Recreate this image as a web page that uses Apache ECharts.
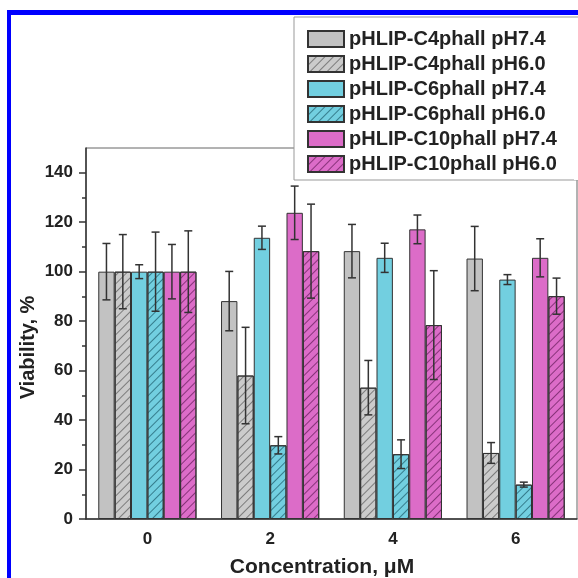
<!DOCTYPE html>
<html><head><meta charset="utf-8">
<script src="https://cdn.jsdelivr.net/npm/echarts@6/dist/echarts.min.js"></script>
<style>html,body{margin:0;padding:0;background:#fff}#c{width:578px;height:578px}</style>
</head><body><div id="c"></div>
<script>
// ---- data ----
const categories = ['0', '2', '4', '6'];
const seriesNames = [
  'pHLIP-C4phall pH7.4', 'pHLIP-C4phall pH6.0',
  'pHLIP-C6phall pH7.4', 'pHLIP-C6phall pH6.0',
  'pHLIP-C10phall pH7.4', 'pHLIP-C10phall pH6.0'
];
const c4ph74 = [100, 88.1, 108.3, 105.3];
const c4ph60 = [100, 58.0, 53.1, 26.7];
const c6ph74 = [100, 113.7, 105.6, 96.8];
const c6ph60 = [100, 29.8, 26.2, 13.9];
const c10ph74 = [100, 123.8, 117.1, 105.6];
const c10ph60 = [100, 108.3, 78.4, 90.1];
const c4ph74Err = [11.4, 12.0, 10.8, 13.0];
const c4ph60Err = [15.0, 19.5, 11.0, 4.2];
const c6ph74Err = [2.8, 4.7, 5.9, 2.0];
const c6ph60Err = [16.0, 3.5, 5.8, 1.0];
const c10ph74Err = [11.0, 10.8, 5.8, 7.7];
const c10ph60Err = [16.5, 19.0, 22.0, 7.3];
const yTicks = [0, 20, 40, 60, 80, 100, 120, 140];
const yMinorTicks = [10, 30, 50, 70, 90, 110, 130];

// ---- chart ----
const values = [c4ph74, c4ph60, c6ph74, c6ph60, c10ph74, c10ph60];
const errors = [c4ph74Err, c4ph60Err, c6ph74Err, c6ph60Err, c10ph74Err, c10ph60Err];
const FONT = '"Liberation Sans", Arial, sans-serif';
const fills = ['#c2c2c2', '#cbcbcb', '#72cfe0', '#72cfe0', '#dc6cc8', '#dc6cc8'];
const hatchColors = [null, 'rgba(70,70,70,0.6)', null, 'rgba(20,80,95,0.65)', null, 'rgba(90,20,80,0.65)'];
const CAT_GAP = 0.2;
const N = seriesNames.length;

const barSeries = seriesNames.map((name, i) => {
  const s = {
    name, type: 'bar', data: values[i], barGap: '0%', barCategoryGap: '20%',
    itemStyle: { color: fills[i], borderColor: '#333', borderWidth: 1 },
    emphasis: { disabled: true }, z: 2, yAxisIndex: 0
  };
  if (hatchColors[i]) {
    s.itemStyle.decal = {
      symbol: 'rect', symbolSize: 1, dashArrayX: [1, 0], dashArrayY: [1, 4.6],
      rotation: -Math.PI / 4, color: hatchColors[i]
    };
  }
  return s;
});

const errSeries = seriesNames.map((name, i) => ({
  type: 'custom', silent: true, z: 5, yAxisIndex: 0,
  data: values[i].map((v, k) => [k, v, errors[i][k]]),
  encode: { x: 0, y: 1 },
  renderItem: (params, api) => {
    const cat = api.value(0), v = api.value(1), e = api.value(2);
    const band = api.size([1, 0])[0];
    const bw = band * (1 - CAT_GAP) / N;
    const x = api.coord([cat, v])[0] + (i - (N - 1) / 2) * bw;
    const yT = api.coord([cat, v + e])[1];
    const yB = api.coord([cat, v - e])[1];
    const cap = 4;
    const st = { stroke: '#333', lineWidth: 1.5 };
    return { type: 'group', children: [
      { type: 'line', shape: { x1: x, y1: yT, x2: x, y2: yB }, style: st },
      { type: 'line', shape: { x1: x - cap, y1: yT, x2: x + cap, y2: yT }, style: st },
      { type: 'line', shape: { x1: x - cap, y1: yB, x2: x + cap, y2: yB }, style: st }
    ] };
  }
}));

const chart = echarts.init(document.getElementById('c'), null, { renderer: 'canvas' });
chart.setOption({
  animation: false,
  backgroundColor: '#fff',
  grid: { left: 86, right: 1, top: 148, bottom: 59, show: true, borderColor: '#666', borderWidth: 1,
          containLabel: false, outerBoundsMode: 'none' },
  legend: {
    data: seriesNames, orient: 'vertical', left: 294, top: 17,
    itemWidth: 36, itemHeight: 16, itemGap: 5, icon: 'rect',
    padding: [12, 40, 6, 13], backgroundColor: '#fff', borderColor: '#999', borderWidth: 1,
    textStyle: { fontFamily: FONT, fontWeight: 'bold', fontSize: 20, color: '#222' },
    selectedMode: false, z: 10
  },
  xAxis: {
    type: 'category', data: categories,
    name: 'Concentration, μM', nameLocation: 'middle', nameGap: 38, nameMoveOverlap: false,
    nameTextStyle: { fontFamily: FONT, fontWeight: 'bold', fontSize: 21, color: '#222', padding: [0, 19, 0, 0] },
    axisLine: { lineStyle: { color: '#333', width: 1.5 } },
    axisTick: { alignWithLabel: true, length: 7, lineStyle: { color: '#333', width: 1.5 } },
    axisLabel: { fontFamily: FONT, fontWeight: 'bold', fontSize: 17, color: '#222', margin: 12 },
    splitLine: { show: false }
  },
  yAxis: [{
    type: 'value', min: 0, max: 150, interval: 20,
    name: 'Viability, %', nameLocation: 'middle', nameGap: 48, nameMoveOverlap: false,
    nameTextStyle: { fontFamily: FONT, fontWeight: 'bold', fontSize: 20, color: '#222', padding: [0, 28, 0, 0] },
    axisLine: { show: true, lineStyle: { color: '#333', width: 1.5 } },
    axisTick: { show: true, length: 7, customValues: yTicks, lineStyle: { color: '#333', width: 1.5 } },
    axisLabel: { fontFamily: FONT, fontWeight: 'bold', fontSize: 17, color: '#222', margin: 13, customValues: yTicks },
    splitLine: { show: false }
  }, {
    type: 'value', min: 0, max: 150, interval: 10, position: 'left',
    axisLine: { show: false },
    axisTick: { show: true, length: 4, customValues: yMinorTicks, lineStyle: { color: '#333', width: 1.5 } },
    axisLabel: { show: false },
    splitLine: { show: false }
  }],
  series: barSeries.concat(errSeries),
  graphic: [
    { type: 'rect', shape: { x: 574, y: 18, width: 4, height: 162 }, style: { fill: '#fff' }, z: 200 },
    { type: 'rect', shape: { x: 7, y: 10, width: 571, height: 5 }, style: { fill: '#0000ff' }, z: 200 },
    { type: 'rect', shape: { x: 7, y: 10, width: 4, height: 568 }, style: { fill: '#0000ff' }, z: 200 }
  ]
});
</script></body></html>
